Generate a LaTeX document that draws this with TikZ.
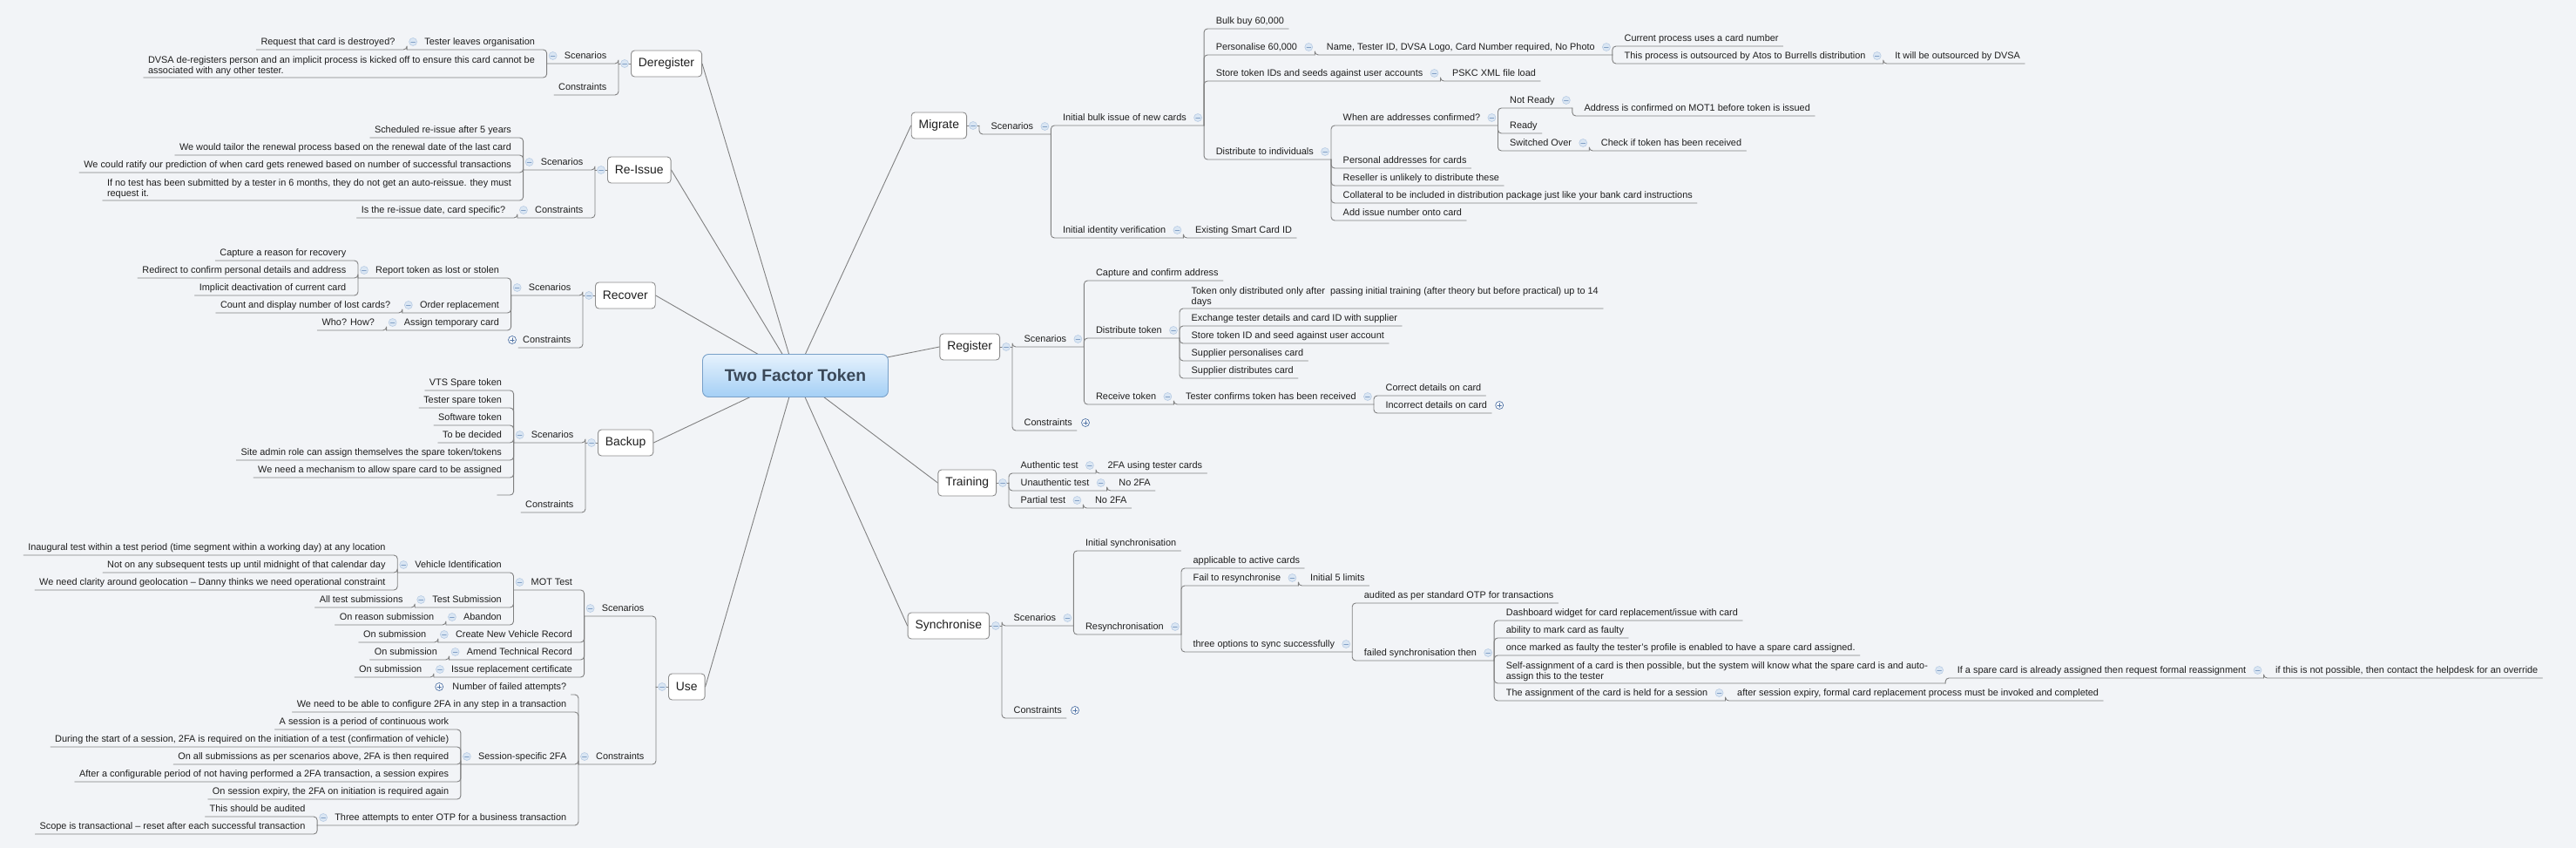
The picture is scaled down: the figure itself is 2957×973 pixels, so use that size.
\documentclass[tikz,border=0pt]{standalone}
\usepackage{fontspec}
\setmainfont{Liberation Sans}
\definecolor{paper}{RGB}{242,244,247}
\definecolor{ink}{RGB}{30,30,30}
\definecolor{wire}{RGB}{128,128,128}
\definecolor{boxline}{RGB}{140,140,140}
\definecolor{mkfill}{RGB}{218,230,243}
\definecolor{mkline}{RGB}{184,204,228}
\definecolor{mkglyph}{RGB}{130,160,198}
\definecolor{pkline}{RGB}{80,115,165}
\definecolor{roottop}{RGB}{230,242,253}
\definecolor{rootbot}{RGB}{164,207,245}
\definecolor{rootline}{RGB}{120,160,200}
\definecolor{roottext}{RGB}{58,72,88}

\tikzset{
  topic/.style={font=\fontsize{10.9}{12}\selectfont, text=ink, inner xsep=5pt, inner ysep=2.5pt},
  rt/.style={topic, anchor=south west, xshift=8.5pt, text height=7.9pt, text depth=2.4pt},
  lt/.style={topic, anchor=south east, xshift=-8.5pt, text height=7.9pt, text depth=2.4pt},
  rtm/.style={topic, anchor=south west, xshift=8.5pt, align=left},
  ltm/.style={topic, anchor=south east, xshift=-8.5pt, align=left},
  branch/.style={draw=boxline, line width=0.9pt, fill=white, rounded corners=4pt, font=\fontsize{13.9}{16}\selectfont, text=ink, minimum height=30pt, inner xsep=8.5pt},
  root/.style={draw=rootline, line width=0.9pt, top color=roottop, bottom color=rootbot, rounded corners=7pt, minimum width=213pt, minimum height=49pt, font=\fontsize{19.3}{22}\selectfont\bfseries, text=roottext},
  link/.style={draw=wire, line width=0.9pt, rounded corners=4pt},
  spoke/.style={draw=wire, line width=0.9pt},
  fold/.pic={\draw[mkline, fill=mkfill, line width=0.6pt] (0,0) circle (4.5pt); \draw[mkglyph, line width=0.9pt] (-2.3pt,0) -- (2.3pt,0);},
  unfold/.pic={\draw[pkline, fill=white, line width=0.7pt] (0,0) circle (4.5pt); \draw[pkline, line width=0.8pt] (-2.3pt,0) -- (2.3pt,0) (0,-2.3pt) -- (0,2.3pt);},
}

\begin{document}
\begin{tikzpicture}[x=1pt,y=-1pt,line cap=round,line join=round]
\fill[paper] (0,0) rectangle (2957,973);
\useasboundingbox (0,0) rectangle (2957,973);

\node[branch, anchor=west] (dr) at (724,73) {Deregister};
\node[branch, anchor=west] (ri) at (697,195) {Re-Issue};
\node[branch, anchor=west] (rv) at (683,339) {Recover};
\node[branch, anchor=west] (bk) at (686,508) {Backup};
\node[branch, anchor=west] (us) at (767,788) {Use};
\node[branch, anchor=east] (mg) at (1110,144) {Migrate};
\node[branch, anchor=east] (rg) at (1148,398) {Register};
\node[branch, anchor=east] (tr) at (1144,554) {Training};
\node[branch, anchor=east] (sy) at (1136,718) {Synchronise};

\coordinate (hub) at (913,431);
\foreach \b in {dr,ri,rv,bk,us}
\draw[spoke] (hub) -- (\b.east);
\foreach \b in {mg,rg,tr,sy}
\draw[spoke] (hub) -- (\b.west);
\node[root] (root) at (hub) {Two Factor Token};

% Deregister
\coordinate (drJ) at ([xshift=-14pt]dr.west);
\draw[spoke] (dr.west) -- (drJ);
\pic at ([xshift=-7pt]dr.west) {fold};
\node[lt] (drs) at (drJ |- 0,73) {Scenarios};
\node[lt] (drc) at (drJ |- 0,109) {Constraints};
\coordinate (drsJ) at ([xshift=-15pt]drs.south west);
\draw[link] (drJ) |- (drsJ);
\draw[link] (drJ) |- (drc.south west);
\pic at ([xshift=-8pt,yshift=9pt]drs.south west) {fold};
\node[lt] (drs1) at (drsJ |- 0,57) {Tester leaves organisation};
\coordinate (drs1J) at ([xshift=-15pt]drs1.south west);
\draw[link] (drsJ) |- (drs1J);
\pic at ([xshift=-8pt,yshift=9pt]drs1.south west) {fold};
\node[lt] (drs1a) at (drs1J |- 0,57) {Request that card is destroyed?};
\draw[link] (drs1J) |- (drs1a.south west);
\node[ltm] (drs2) at (drsJ |- 0,89) {DVSA de-registers person and an implicit process is kicked off to ensure this card cannot be\\associated with any other tester.};
\draw[link] (drsJ) |- (drs2.south west);

% Re-Issue
\coordinate (riJ) at ([xshift=-14pt]ri.west);
\draw[spoke] (ri.west) -- (riJ);
\pic at ([xshift=-7pt]ri.west) {fold};
\node[lt] (ris) at (riJ |- 0,195) {Scenarios};
\node[lt] (ric) at (riJ |- 0,250) {Constraints};
\coordinate (risJ) at ([xshift=-15pt]ris.south west);
\coordinate (ricJ) at ([xshift=-15pt]ric.south west);
\draw[link] (riJ) |- (risJ);
\draw[link] (riJ) |- (ricJ);
\pic at ([xshift=-8pt,yshift=9pt]ris.south west) {fold};
\pic at ([xshift=-8pt,yshift=9pt]ric.south west) {fold};
\foreach \t/\y [count=\i] in {Scheduled re-issue after 5 years/158, We would tailor the renewal process based on the renewal date of the last card/178, We could ratify our prediction of when card gets renewed based on number of successful transactions/198} {
  \node[lt] (ris\i) at (risJ |- 0,\y) {\t};
  \draw[link] (risJ) |- (ris\i.south west);
}
\node[ltm] (ris4) at (risJ |- 0,230) {If no test has been submitted by a tester in 6 months, they do not get an auto-reissue. they must\\request it.};
\draw[link] (risJ) |- (ris4.south west);
\node[lt] (ric1) at (ricJ |- 0,250) {Is the re-issue date, card specific?};
\draw[link] (ricJ) |- (ric1.south west);

% Recover
\coordinate (rvJ) at ([xshift=-14pt]rv.west);
\draw[spoke] (rv.west) -- (rvJ);
\pic at ([xshift=-7pt]rv.west) {fold};
\node[lt] (rvs) at (rvJ |- 0,339) {Scenarios};
\node[lt] (rvc) at (rvJ |- 0,399) {Constraints};
\coordinate (rvsJ) at ([xshift=-15pt]rvs.south west);
\draw[link] (rvJ) |- (rvsJ);
\draw[link] (rvJ) |- (rvc.south west);
\pic at ([xshift=-8pt,yshift=9pt]rvs.south west) {fold};
\pic at ([xshift=-7pt,yshift=9pt]rvc.south west) {unfold};
\foreach \t/\y [count=\i] in {Report token as lost or stolen/319, Order replacement/359, Assign temporary card/379} {
  \node[lt] (rvs\i) at (rvsJ |- 0,\y) {\t};
  \coordinate (rvs\i J) at ([xshift=-15pt]rvs\i.south west);
  \draw[link] (rvsJ) |- (rvs\i J);
  \pic at ([xshift=-8pt,yshift=9pt]rvs\i.south west) {fold};
}
\foreach \t/\y [count=\i] in {Capture a reason for recovery/299, Redirect to confirm personal details and address/319, Implicit deactivation of current card/339} {
  \node[lt] (rva\i) at (rvs1J |- 0,\y) {\t};
  \draw[link] (rvs1J) |- (rva\i.south west);
}
\node[lt] (rvb) at (rvs2J |- 0,359) {Count and display number of lost cards?};
\draw[link] (rvs2J) |- (rvb.south west);
\node[lt] (rvd) at (rvs3J |- 0,379) {Who? How?};
\draw[link] (rvs3J) |- (rvd.south west);

% Backup
\coordinate (bkJ) at ([xshift=-14pt]bk.west);
\draw[spoke] (bk.west) -- (bkJ);
\pic at ([xshift=-7pt]bk.west) {fold};
\node[lt] (bks) at (bkJ |- 0,508) {Scenarios};
\node[lt] (bkc) at (bkJ |- 0,588) {Constraints};
\coordinate (bksJ) at ([xshift=-15pt]bks.south west);
\draw[link] (bkJ) |- (bksJ);
\draw[link] (bkJ) |- (bkc.south west);
\pic at ([xshift=-8pt,yshift=9pt]bks.south west) {fold};
\foreach \t/\y [count=\i] in {VTS Spare token/448, Tester spare token/468, Software token/488, To be decided/508, {Site admin role can assign themselves the spare token/tokens}/528, We need a mechanism to allow spare card to be assigned/548, {}/568} {
  \node[lt] (bks\i) at (bksJ |- 0,\y) {\t};
  \draw[link] (bksJ) |- (bks\i.south west);
}

% Use
\coordinate (usJ) at ([xshift=-14pt]us.west);
\draw[spoke] (us.west) -- (usJ);
\pic at ([xshift=-7pt]us.west) {fold};
\node[lt] (uss) at (usJ |- 0,707) {Scenarios};
\node[lt] (usc) at (usJ |- 0,877) {Constraints};
\coordinate (ussJ) at ([xshift=-15pt]uss.south west);
\coordinate (uscJ) at ([xshift=-15pt]usc.south west);
\draw[link] (usJ) |- (ussJ);
\draw[link] (usJ) |- (uscJ);
\pic at ([xshift=-8pt,yshift=9pt]uss.south west) {fold};
\pic at ([xshift=-8pt,yshift=9pt]usc.south west) {fold};
\foreach \t/\y [count=\i] in {MOT Test/677, Create New Vehicle Record/737, Amend Technical Record/757, Issue replacement certificate/777} {
  \node[lt] (uss\i) at (ussJ |- 0,\y) {\t};
  \coordinate (uss\i J) at ([xshift=-15pt]uss\i.south west);
  \draw[link] (ussJ) |- (uss\i J);
  \pic at ([xshift=-8pt,yshift=9pt]uss\i.south west) {fold};
}
\foreach \p/\y in {2/737, 3/757, 4/777} {
  \node[lt] (usr\p) at (uss\p J |- 0,\y) {On submission};
  \draw[link] (uss\p J) |- (usr\p.south west);
}
\foreach \t/\y [count=\i] in {Vehicle Identification/657, Test Submission/697, Abandon/717} {
  \node[lt] (mot\i) at (uss1J |- 0,\y) {\t};
  \coordinate (mot\i J) at ([xshift=-15pt]mot\i.south west);
  \draw[link] (uss1J) |- (mot\i J);
  \pic at ([xshift=-8pt,yshift=9pt]mot\i.south west) {fold};
}
\foreach \t/\y [count=\i] in {Inaugural test within a test period (time segment within a working day) at any location/637, Not on any subsequent tests up until midnight of that calendar day/657, We need clarity around geolocation – Danny thinks we need operational constraint/677} {
  \node[lt] (veh\i) at (mot1J |- 0,\y) {\t};
  \draw[link] (mot1J) |- (veh\i.south west);
}
\node[lt] (mot2a) at (mot2J |- 0,697) {All test submissions};
\draw[link] (mot2J) |- (mot2a.south west);
\node[lt] (mot3a) at (mot3J |- 0,717) {On reason submission};
\draw[link] (mot3J) |- (mot3a.south west);
\node[lt] (usc1) at (uscJ |- 0,797) {Number of failed attempts?};
\draw[link] (uscJ) |- (usc1.south east);
\pic at ([xshift=-10pt,yshift=9pt]usc1.south west) {unfold};
\node[lt] (usc2) at (uscJ |- 0,817) {We need to be able to configure 2FA in any step in a transaction};
\draw[link] (uscJ) |- (usc2.south west);
\node[lt] (usc3) at (uscJ |- 0,877) {Session-specific 2FA};
\node[lt] (usc4) at (uscJ |- 0,947) {Three attempts to enter OTP for a business transaction};
\coordinate (usc3J) at ([xshift=-15pt]usc3.south west);
\coordinate (usc4J) at ([xshift=-15pt]usc4.south west);
\draw[link] (uscJ) |- (usc3J);
\draw[link] (uscJ) |- (usc4J);
\pic at ([xshift=-8pt,yshift=9pt]usc3.south west) {fold};
\pic at ([xshift=-8pt,yshift=9pt]usc4.south west) {fold};
\foreach \t/\y [count=\i] in {A session is a period of continuous work/837, {During the start of a session, 2FA is required on the initiation of a test (confirmation of vehicle)}/857, {On all submissions as per scenarios above, 2FA is then required}/877, {After a configurable period of not having performed a 2FA transaction, a session expires}/897, {On session expiry, the 2FA on initiation is required again}/917} {
  \node[lt] (ses\i) at (usc3J |- 0,\y) {\t};
  \draw[link] (usc3J) |- (ses\i.south west);
}
\foreach \t/\y [count=\i] in {This should be audited/937, Scope is transactional – reset after each successful transaction/957} {
  \node[lt] (otp\i) at (usc4J |- 0,\y) {\t};
  \draw[link] (usc4J) |- (otp\i.south west);
}

% Migrate
\coordinate (mgJ) at ([xshift=14pt]mg.east);
\draw[spoke] (mg.east) -- (mgJ);
\pic at ([xshift=7pt]mg.east) {fold};
\node[rt] (mgs) at (mgJ |- 0,154) {Scenarios};
\coordinate (mgsJ) at ([xshift=15pt]mgs.south east);
\draw[link] (mgJ) |- (mgsJ);
\pic at ([xshift=8pt,yshift=9pt]mgs.south east) {fold};
\foreach \t/\y [count=\i] in {Initial bulk issue of new cards/144, Initial identity verification/273} {
  \node[rt] (mgs\i) at (mgsJ |- 0,\y) {\t};
  \coordinate (mgs\i J) at ([xshift=15pt]mgs\i.south east);
  \draw[link] (mgsJ) |- (mgs\i J);
  \pic at ([xshift=8pt,yshift=9pt]mgs\i.south east) {fold};
}
\node[rt] (idv) at (mgs2J |- 0,273) {Existing Smart Card ID};
\draw[link] (mgs2J) |- (idv.south east);
\node[rt] (blk1) at (mgs1J |- 0,33) {Bulk buy 60,000};
\draw[link] (mgs1J) |- (blk1.south east);
\foreach \t/\y [count=\i from 2] in {{Personalise 60,000}/63, Store token IDs and seeds against user accounts/93, Distribute to individuals/183} {
  \node[rt] (blk\i) at (mgs1J |- 0,\y) {\t};
  \coordinate (blk\i J) at ([xshift=15pt]blk\i.south east);
  \draw[link] (mgs1J) |- (blk\i J);
  \pic at ([xshift=8pt,yshift=9pt]blk\i.south east) {fold};
}
\node[rt] (per) at (blk2J |- 0,63) {Name, Tester ID, DVSA Logo, Card Number required, No Photo};
\coordinate (perJ) at ([xshift=15pt]per.south east);
\draw[link] (blk2J) |- (perJ);
\pic at ([xshift=8pt,yshift=9pt]per.south east) {fold};
\node[rt] (per1) at (perJ |- 0,53) {Current process uses a card number};
\draw[link] (perJ) |- (per1.south east);
\node[rt] (per2) at (perJ |- 0,73) {This process is outsourced by Atos to Burrells distribution};
\coordinate (per2J) at ([xshift=15pt]per2.south east);
\draw[link] (perJ) |- (per2J);
\pic at ([xshift=8pt,yshift=9pt]per2.south east) {fold};
\node[rt] (per3) at (per2J |- 0,73) {It will be outsourced by DVSA};
\draw[link] (per2J) |- (per3.south east);
\node[rt] (pskc) at (blk3J |- 0,93) {PSKC XML file load};
\draw[link] (blk3J) |- (pskc.south east);
\node[rt] (dst1) at (blk4J |- 0,144) {When are addresses confirmed?};
\coordinate (dst1J) at ([xshift=15pt]dst1.south east);
\draw[link] (blk4J) |- (dst1J);
\pic at ([xshift=8pt,yshift=9pt]dst1.south east) {fold};
\foreach \t/\y [count=\i from 2] in {Personal addresses for cards/193, Reseller is unlikely to distribute these/213, Collateral to be included in distribution package just like your bank card instructions/233, Add issue number onto card/253} {
  \node[rt] (dst\i) at (blk4J |- 0,\y) {\t};
  \draw[link] (blk4J) |- (dst\i.south east);
}
\node[rt] (adr1) at (dst1J |- 0,124) {Not Ready};
\node[rt] (adr2) at (dst1J |- 0,153) {Ready};
\node[rt] (adr3) at (dst1J |- 0,173) {Switched Over};
\coordinate (adr1J) at ([xshift=15pt]adr1.south east);
\coordinate (adr3J) at ([xshift=15pt]adr3.south east);
\draw[link] (dst1J) |- (adr1J);
\draw[link] (dst1J) |- (adr2.south east);
\draw[link] (dst1J) |- (adr3J);
\pic at ([xshift=8pt,yshift=9pt]adr1.south east) {fold};
\pic at ([xshift=8pt,yshift=9pt]adr3.south east) {fold};
\node[rt] (adr1a) at (adr1J |- 0,133) {Address is confirmed on MOT1 before token is issued};
\draw[link] (adr1J) |- (adr1a.south east);
\node[rt] (adr3a) at (adr3J |- 0,173) {Check if token has been received};
\draw[link] (adr3J) |- (adr3a.south east);

% Register
\coordinate (rgJ) at ([xshift=14pt]rg.east);
\draw[spoke] (rg.east) -- (rgJ);
\pic at ([xshift=7pt]rg.east) {fold};
\node[rt] (rgs) at (rgJ |- 0,398) {Scenarios};
\node[rt] (rgc) at (rgJ |- 0,494) {Constraints};
\coordinate (rgsJ) at ([xshift=15pt]rgs.south east);
\draw[link] (rgJ) |- (rgsJ);
\draw[link] (rgJ) |- (rgc.south east);
\pic at ([xshift=8pt,yshift=9pt]rgs.south east) {fold};
\pic at ([xshift=10pt,yshift=9pt]rgc.south east) {unfold};
\node[rt] (rgs1) at (rgsJ |- 0,322) {Capture and confirm address};
\draw[link] (rgsJ) |- (rgs1.south east);
\foreach \t/\y [count=\i from 2] in {Distribute token/388, Receive token/464} {
  \node[rt] (rgs\i) at (rgsJ |- 0,\y) {\t};
  \coordinate (rgs\i J) at ([xshift=15pt]rgs\i.south east);
  \draw[link] (rgsJ) |- (rgs\i J);
  \pic at ([xshift=8pt,yshift=9pt]rgs\i.south east) {fold};
}
\node[rtm] (dtk1) at (rgs2J |- 0,354) {Token only distributed only after\ \ passing initial training (after theory but before practical) up to 14\\days};
\draw[link] (rgs2J) |- (dtk1.south east);
\foreach \t/\y [count=\i from 2] in {Exchange tester details and card ID with supplier/374, Store token ID and seed against user account/394, Supplier personalises card/414, Supplier distributes card/434} {
  \node[rt] (dtk\i) at (rgs2J |- 0,\y) {\t};
  \draw[link] (rgs2J) |- (dtk\i.south east);
}
\node[rt] (rcv) at (rgs3J |- 0,464) {Tester confirms token has been received};
\coordinate (rcvJ) at ([xshift=15pt]rcv.south east);
\draw[link] (rgs3J) |- (rcvJ);
\pic at ([xshift=8pt,yshift=9pt]rcv.south east) {fold};
\node[rt] (rcv1) at (rcvJ |- 0,454) {Correct details on card};
\node[rt] (rcv2) at (rcvJ |- 0,474) {Incorrect details on card};
\draw[link] (rcvJ) |- (rcv1.south east);
\draw[link] (rcvJ) |- (rcv2.south east);
\pic at ([xshift=9pt,yshift=9pt]rcv2.south east) {unfold};

% Training
\coordinate (trJ) at ([xshift=14pt]tr.east);
\draw[spoke] (tr.east) -- (trJ);
\pic at ([xshift=7pt]tr.east) {fold};
\foreach \t/\u/\y [count=\i] in {Authentic test/2FA using tester cards/543, Unauthentic test/No 2FA/563, Partial test/No 2FA/583} {
  \node[rt] (trn\i) at (trJ |- 0,\y) {\t};
  \coordinate (trn\i J) at ([xshift=15pt]trn\i.south east);
  \draw[link] (trJ) |- (trn\i J);
  \pic at ([xshift=8pt,yshift=9pt]trn\i.south east) {fold};
  \node[rt] (tra\i) at (trn\i J |- 0,\y) {\u};
  \draw[link] (trn\i J) |- (tra\i.south east);
}

% Synchronise
\coordinate (syJ) at ([xshift=14pt]sy.east);
\draw[spoke] (sy.east) -- (syJ);
\pic at ([xshift=7pt]sy.east) {fold};
\node[rt] (sys) at (syJ |- 0,718) {Scenarios};
\node[rt] (syc) at (syJ |- 0,824) {Constraints};
\coordinate (sysJ) at ([xshift=15pt]sys.south east);
\draw[link] (syJ) |- (sysJ);
\draw[link] (syJ) |- (syc.south east);
\pic at ([xshift=8pt,yshift=9pt]sys.south east) {fold};
\pic at ([xshift=10pt,yshift=9pt]syc.south east) {unfold};
\node[rt] (sys1) at (sysJ |- 0,632) {Initial synchronisation};
\draw[link] (sysJ) |- (sys1.south east);
\node[rt] (sys2) at (sysJ |- 0,728) {Resynchronisation};
\coordinate (sys2J) at ([xshift=15pt]sys2.south east);
\draw[link] (sysJ) |- (sys2J);
\pic at ([xshift=8pt,yshift=9pt]sys2.south east) {fold};
\node[rt] (rsy1) at (sys2J |- 0,652) {applicable to active cards};
\draw[link] (sys2J) |- (rsy1.south east);
\node[rt] (rsy2) at (sys2J |- 0,672) {Fail to resynchronise};
\node[rt] (rsy3) at (sys2J |- 0,748) {three options to sync successfully};
\coordinate (rsy2J) at ([xshift=15pt]rsy2.south east);
\coordinate (rsy3J) at ([xshift=15pt]rsy3.south east);
\draw[link] (sys2J) |- (rsy2J);
\draw[link] (sys2J) |- (rsy3J);
\pic at ([xshift=8pt,yshift=9pt]rsy2.south east) {fold};
\pic at ([xshift=8pt,yshift=9pt]rsy3.south east) {fold};
\node[rt] (rsy2a) at (rsy2J |- 0,672) {Initial 5 limits};
\draw[link] (rsy2J) |- (rsy2a.south east);
\node[rt] (opt1) at (rsy3J |- 0,692) {audited as per standard OTP for transactions};
\draw[link] (rsy3J) |- (opt1.south east);
\node[rt] (opt2) at (rsy3J |- 0,758) {failed synchronisation then};
\coordinate (opt2J) at ([xshift=15pt]opt2.south east);
\draw[link] (rsy3J) |- (opt2J);
\pic at ([xshift=8pt,yshift=9pt]opt2.south east) {fold};
\foreach \t/\y [count=\i] in {{Dashboard widget for card replacement/issue with card}/712, ability to mark card as faulty/732, once marked as faulty the tester's profile is enabled to have a spare card assigned./752} {
  \node[rt] (fsy\i) at (opt2J |- 0,\y) {\t};
  \draw[link] (opt2J) |- (fsy\i.south east);
}
\node[rtm] (fsy4) at (opt2J |- 0,784) {Self-assignment of a card is then possible, but the system will know what the spare card is and auto-\\assign this to the tester};
\coordinate (fsy4J) at ([xshift=15pt]fsy4.south east);
\draw[link] (opt2J) |- (fsy4J);
\pic at ([xshift=8pt,yshift=15pt]fsy4.south east) {fold};
\node[rt] (fsy4a) at (fsy4J |- 0,778) {If a spare card is already assigned then request formal reassignment};
\coordinate (fsy4aJ) at ([xshift=15pt]fsy4a.south east);
\draw[link] (fsy4J) |- (fsy4aJ);
\pic at ([xshift=8pt,yshift=9pt]fsy4a.south east) {fold};
\node[rt] (fsy4b) at (fsy4aJ |- 0,778) {if this is not possible, then contact the helpdesk for an override};
\draw[link] (fsy4aJ) |- (fsy4b.south east);
\node[rt] (fsy5) at (opt2J |- 0,804) {The assignment of the card is held for a session};
\coordinate (fsy5J) at ([xshift=15pt]fsy5.south east);
\draw[link] (opt2J) |- (fsy5J);
\pic at ([xshift=8pt,yshift=9pt]fsy5.south east) {fold};
\node[rt] (fsy5a) at (fsy5J |- 0,804) {after session expiry, formal card replacement process must be invoked and completed};
\draw[link] (fsy5J) |- (fsy5a.south east);
\end{tikzpicture}
\end{document}
